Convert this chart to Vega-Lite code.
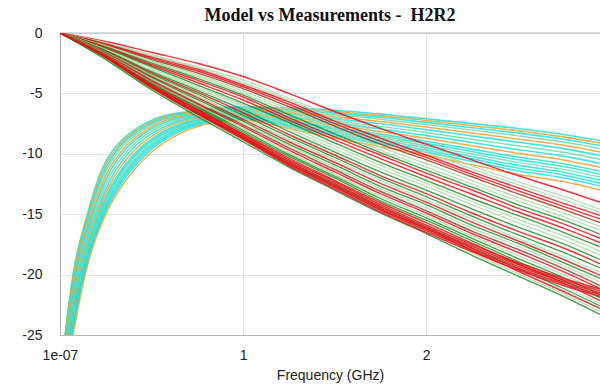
{
"$schema":"https://vega.github.io/schema/vega-lite/v6.json",
"width":540,"height":302,
"autosize":{"type":"none"},
"padding":{"left":60,"top":33,"right":0,"bottom":52},
"background":"white",
"title":{"text":"Model vs Measurements -\u00a0 H2R2","font":"Liberation Serif","fontSize":18,"fontWeight":"bold","color":"#111111","anchor":"middle","offset":1},
"config":{"view":{"stroke":null},"axis":{"labelFont":"Liberation Sans","labelFontSize":14,"labelColor":"#222222","titleFont":"Liberation Sans","titleFontSize":14,"titleFontWeight":"normal","titleColor":"#222222","gridColor":"#e3e3e3","domainColor":"#b5b5b5","ticks":false,"tickSize":0}},
"datasets":{
"series":[
{"id":"RL00","g":"RL model"},{"id":"RL01","g":"RL meas"},{"id":"RL02","g":"RL model"},{"id":"RL03","g":"RL meas 2"},{"id":"RL04","g":"RL meas"},{"id":"RL05","g":"RL model"},{"id":"RL06","g":"RL meas 2"},{"id":"RL07","g":"RL model"},{"id":"RL08","g":"RL meas"},{"id":"RL09","g":"RL model"},{"id":"RL10","g":"RL model"},{"id":"RL11","g":"RL meas 2"},{"id":"RL12","g":"RL model"},{"id":"RL13","g":"RL model"},{"id":"RL14","g":"RL model"},{"id":"RL15","g":"RL meas"},
{"id":"IL00","g":"IL model"},{"id":"IL01","g":"IL meas 2"},{"id":"IL02","g":"IL model"},{"id":"IL03","g":"IL model 2"},{"id":"IL04","g":"IL meas 2"},{"id":"IL05","g":"IL model"},{"id":"IL06","g":"IL meas"},{"id":"IL07","g":"IL meas 2"},{"id":"IL08","g":"IL model"},{"id":"IL09","g":"IL meas 2"},{"id":"IL10","g":"IL meas"},{"id":"IL11","g":"IL model 2"},{"id":"IL12","g":"IL meas 2"},{"id":"IL13","g":"IL meas"},{"id":"IL14","g":"IL meas 2"},{"id":"IL15","g":"IL model"},{"id":"IL16","g":"IL meas"},{"id":"IL17","g":"IL model"},{"id":"IL18","g":"IL model"},{"id":"IL19","g":"IL model"},{"id":"IL20","g":"IL meas 2"},{"id":"IL21","g":"IL meas"},
{"id":"IL22","g":"IL model"},{"id":"IL23","g":"IL meas 2"},{"id":"IL24","g":"IL meas"},{"id":"IL25","g":"IL model"},{"id":"IL26","g":"IL meas 2"},{"id":"IL27","g":"IL meas"},{"id":"IL28","g":"IL model"},{"id":"IL29","g":"IL meas 2"},{"id":"IL30","g":"IL model"},{"id":"IL31","g":"IL meas"},{"id":"IL32","g":"IL model"},{"id":"IL33","g":"IL meas"},{"id":"IL34","g":"IL meas 2"},{"id":"IL35","g":"IL model"},{"id":"IL36","g":"IL model"}
],
"rl":[
{"id":"RL00","f":0.027,"v":-25},{"id":"RL00","f":0.071,"v":-20},{"id":"RL00","f":0.15,"v":-15},{"id":"RL00","f":0.22,"v":-11.6},{"id":"RL00","f":0.3,"v":-9.5},{"id":"RL00","f":0.4,"v":-8.1},{"id":"RL00","f":0.52,"v":-7.1},{"id":"RL00","f":0.7,"v":-6.5},{"id":"RL00","f":1,"v":-6.1},{"id":"RL00","f":1.25,"v":-6.2},{"id":"RL00","f":1.5,"v":-6.4},{"id":"RL00","f":1.75,"v":-6.7},{"id":"RL00","f":2,"v":-7.1},{"id":"RL00","f":2.25,"v":-7.5},{"id":"RL00","f":2.5,"v":-7.9},{"id":"RL00","f":2.75,"v":-8.4},{"id":"RL00","f":2.95,"v":-8.9},
{"id":"RL01","f":0.029,"v":-25},{"id":"RL01","f":0.074,"v":-20},{"id":"RL01","f":0.155,"v":-15},{"id":"RL01","f":0.227,"v":-11.63},{"id":"RL01","f":0.31,"v":-9.53},{"id":"RL01","f":0.411,"v":-8.13},{"id":"RL01","f":0.532,"v":-7.13},{"id":"RL01","f":0.709,"v":-6.54},{"id":"RL01","f":1,"v":-6.16},{"id":"RL01","f":1.25,"v":-6.29},{"id":"RL01","f":1.5,"v":-6.52},{"id":"RL01","f":1.75,"v":-6.84},{"id":"RL01","f":2,"v":-7.25},{"id":"RL01","f":2.25,"v":-7.67},{"id":"RL01","f":2.5,"v":-8.09},{"id":"RL01","f":2.75,"v":-8.6},{"id":"RL01","f":2.95,"v":-9.1},
{"id":"RL02","f":0.031,"v":-25},{"id":"RL02","f":0.078,"v":-20},{"id":"RL02","f":0.16,"v":-15},{"id":"RL02","f":0.234,"v":-11.66},{"id":"RL02","f":0.319,"v":-9.55},{"id":"RL02","f":0.422,"v":-8.15},{"id":"RL02","f":0.544,"v":-7.16},{"id":"RL02","f":0.718,"v":-6.59},{"id":"RL02","f":1,"v":-6.21},{"id":"RL02","f":1.25,"v":-6.37},{"id":"RL02","f":1.5,"v":-6.63},{"id":"RL02","f":1.75,"v":-6.97},{"id":"RL02","f":2,"v":-7.4},{"id":"RL02","f":2.25,"v":-7.84},{"id":"RL02","f":2.5,"v":-8.28},{"id":"RL02","f":2.75,"v":-8.79},{"id":"RL02","f":2.95,"v":-9.31},
{"id":"RL03","f":0.034,"v":-25},{"id":"RL03","f":0.082,"v":-20},{"id":"RL03","f":0.166,"v":-15},{"id":"RL03","f":0.242,"v":-11.7},{"id":"RL03","f":0.33,"v":-9.58},{"id":"RL03","f":0.435,"v":-8.18},{"id":"RL03","f":0.558,"v":-7.2},{"id":"RL03","f":0.729,"v":-6.64},{"id":"RL03","f":1,"v":-6.28},{"id":"RL03","f":1.25,"v":-6.47},{"id":"RL03","f":1.5,"v":-6.77},{"id":"RL03","f":1.75,"v":-7.13},{"id":"RL03","f":2,"v":-7.58},{"id":"RL03","f":2.25,"v":-8.04},{"id":"RL03","f":2.5,"v":-8.51},{"id":"RL03","f":2.75,"v":-9.02},{"id":"RL03","f":2.95,"v":-9.56},
{"id":"RL04","f":0.037,"v":-25},{"id":"RL04","f":0.086,"v":-20},{"id":"RL04","f":0.173,"v":-15},{"id":"RL04","f":0.252,"v":-11.74},{"id":"RL04","f":0.344,"v":-9.62},{"id":"RL04","f":0.451,"v":-8.22},{"id":"RL04","f":0.575,"v":-7.24},{"id":"RL04","f":0.741,"v":-6.7},{"id":"RL04","f":1,"v":-6.35},{"id":"RL04","f":1.25,"v":-6.59},{"id":"RL04","f":1.5,"v":-6.93},{"id":"RL04","f":1.75,"v":-7.32},{"id":"RL04","f":2,"v":-7.79},{"id":"RL04","f":2.25,"v":-8.28},{"id":"RL04","f":2.5,"v":-8.77},{"id":"RL04","f":2.75,"v":-9.3},{"id":"RL04","f":2.95,"v":-9.84},
{"id":"RL05","f":0.04,"v":-25},{"id":"RL05","f":0.091,"v":-20},{"id":"RL05","f":0.18,"v":-15},{"id":"RL05","f":0.262,"v":-11.78},{"id":"RL05","f":0.357,"v":-9.65},{"id":"RL05","f":0.466,"v":-8.25},{"id":"RL05","f":0.592,"v":-7.28},{"id":"RL05","f":0.754,"v":-6.76},{"id":"RL05","f":1,"v":-6.43},{"id":"RL05","f":1.25,"v":-6.71},{"id":"RL05","f":1.5,"v":-7.09},{"id":"RL05","f":1.75,"v":-7.51},{"id":"RL05","f":2,"v":-8.0},{"id":"RL05","f":2.25,"v":-8.52},{"id":"RL05","f":2.5,"v":-9.04},{"id":"RL05","f":2.75,"v":-9.57},{"id":"RL05","f":2.95,"v":-10.13},
{"id":"RL06","f":0.044,"v":-25},{"id":"RL06","f":0.096,"v":-20},{"id":"RL06","f":0.188,"v":-15},{"id":"RL06","f":0.273,"v":-11.83},{"id":"RL06","f":0.372,"v":-9.69},{"id":"RL06","f":0.484,"v":-8.29},{"id":"RL06","f":0.611,"v":-7.33},{"id":"RL06","f":0.768,"v":-6.82},{"id":"RL06","f":1,"v":-6.52},{"id":"RL06","f":1.25,"v":-6.85},{"id":"RL06","f":1.5,"v":-7.27},{"id":"RL06","f":1.75,"v":-7.73},{"id":"RL06","f":2,"v":-8.24},{"id":"RL06","f":2.25,"v":-8.79},{"id":"RL06","f":2.5,"v":-9.34},{"id":"RL06","f":2.75,"v":-9.88},{"id":"RL06","f":2.95,"v":-10.46},
{"id":"RL07","f":0.047,"v":-25},{"id":"RL07","f":0.101,"v":-20},{"id":"RL07","f":0.196,"v":-15},{"id":"RL07","f":0.284,"v":-11.88},{"id":"RL07","f":0.387,"v":-9.73},{"id":"RL07","f":0.501,"v":-8.33},{"id":"RL07","f":0.63,"v":-7.38},{"id":"RL07","f":0.783,"v":-6.89},{"id":"RL07","f":1,"v":-6.61},{"id":"RL07","f":1.25,"v":-6.98},{"id":"RL07","f":1.5,"v":-7.46},{"id":"RL07","f":1.75,"v":-7.94},{"id":"RL07","f":2,"v":-8.48},{"id":"RL07","f":2.25,"v":-9.06},{"id":"RL07","f":2.5,"v":-9.65},{"id":"RL07","f":2.75,"v":-10.19},{"id":"RL07","f":2.95,"v":-10.79},
{"id":"RL08","f":0.051,"v":-25},{"id":"RL08","f":0.107,"v":-20},{"id":"RL08","f":0.204,"v":-15},{"id":"RL08","f":0.296,"v":-11.92},{"id":"RL08","f":0.403,"v":-9.77},{"id":"RL08","f":0.519,"v":-8.37},{"id":"RL08","f":0.65,"v":-7.42},{"id":"RL08","f":0.797,"v":-6.96},{"id":"RL08","f":1,"v":-6.69},{"id":"RL08","f":1.25,"v":-7.12},{"id":"RL08","f":1.5,"v":-7.64},{"id":"RL08","f":1.75,"v":-8.16},{"id":"RL08","f":2,"v":-8.72},{"id":"RL08","f":2.25,"v":-9.34},{"id":"RL08","f":2.5,"v":-9.95},{"id":"RL08","f":2.75,"v":-10.51},{"id":"RL08","f":2.95,"v":-11.11},
{"id":"RL09","f":0.054,"v":-25},{"id":"RL09","f":0.112,"v":-20},{"id":"RL09","f":0.212,"v":-15},{"id":"RL09","f":0.307,"v":-11.97},{"id":"RL09","f":0.418,"v":-9.81},{"id":"RL09","f":0.536,"v":-8.41},{"id":"RL09","f":0.669,"v":-7.47},{"id":"RL09","f":0.812,"v":-7.03},{"id":"RL09","f":1,"v":-6.78},{"id":"RL09","f":1.25,"v":-7.25},{"id":"RL09","f":1.5,"v":-7.83},{"id":"RL09","f":1.75,"v":-8.37},{"id":"RL09","f":2,"v":-8.96},{"id":"RL09","f":2.25,"v":-9.61},{"id":"RL09","f":2.5,"v":-10.26},{"id":"RL09","f":2.75,"v":-10.82},{"id":"RL09","f":2.95,"v":-11.44},
{"id":"RL10","f":0.057,"v":-25},{"id":"RL10","f":0.116,"v":-20},{"id":"RL10","f":0.218,"v":-15},{"id":"RL10","f":0.315,"v":-12.01},{"id":"RL10","f":0.429,"v":-9.84},{"id":"RL10","f":0.55,"v":-8.44},{"id":"RL10","f":0.683,"v":-7.51},{"id":"RL10","f":0.822,"v":-7.08},{"id":"RL10","f":1,"v":-6.85},{"id":"RL10","f":1.25,"v":-7.36},{"id":"RL10","f":1.5,"v":-7.96},{"id":"RL10","f":1.75,"v":-8.54},{"id":"RL10","f":2,"v":-9.14},{"id":"RL10","f":2.25,"v":-9.81},{"id":"RL10","f":2.5,"v":-10.48},{"id":"RL10","f":2.75,"v":-11.05},{"id":"RL10","f":2.95,"v":-11.69},
{"id":"RL11","f":0.06,"v":-25},{"id":"RL11","f":0.12,"v":-20},{"id":"RL11","f":0.224,"v":-15},{"id":"RL11","f":0.324,"v":-12.04},{"id":"RL11","f":0.441,"v":-9.87},{"id":"RL11","f":0.563,"v":-8.47},{"id":"RL11","f":0.698,"v":-7.54},{"id":"RL11","f":0.833,"v":-7.13},{"id":"RL11","f":1,"v":-6.91},{"id":"RL11","f":1.25,"v":-7.46},{"id":"RL11","f":1.5,"v":-8.1},{"id":"RL11","f":1.75,"v":-8.7},{"id":"RL11","f":2,"v":-9.32},{"id":"RL11","f":2.25,"v":-10.02},{"id":"RL11","f":2.5,"v":-10.71},{"id":"RL11","f":2.75,"v":-11.29},{"id":"RL11","f":2.95,"v":-11.93},
{"id":"RL12","f":0.062,"v":-25},{"id":"RL12","f":0.124,"v":-20},{"id":"RL12","f":0.23,"v":-15},{"id":"RL12","f":0.332,"v":-12.08},{"id":"RL12","f":0.452,"v":-9.9},{"id":"RL12","f":0.576,"v":-8.5},{"id":"RL12","f":0.712,"v":-7.58},{"id":"RL12","f":0.844,"v":-7.18},{"id":"RL12","f":1,"v":-6.98},{"id":"RL12","f":1.25,"v":-7.56},{"id":"RL12","f":1.5,"v":-8.24},{"id":"RL12","f":1.75,"v":-8.86},{"id":"RL12","f":2,"v":-9.5},{"id":"RL12","f":2.25,"v":-10.22},{"id":"RL12","f":2.5,"v":-10.94},{"id":"RL12","f":2.75,"v":-11.52},{"id":"RL12","f":2.95,"v":-12.18},
{"id":"RL13","f":0.065,"v":-25},{"id":"RL13","f":0.128,"v":-20},{"id":"RL13","f":0.236,"v":-15},{"id":"RL13","f":0.34,"v":-12.12},{"id":"RL13","f":0.463,"v":-9.93},{"id":"RL13","f":0.589,"v":-8.53},{"id":"RL13","f":0.726,"v":-7.62},{"id":"RL13","f":0.855,"v":-7.23},{"id":"RL13","f":1,"v":-7.05},{"id":"RL13","f":1.25,"v":-7.66},{"id":"RL13","f":1.5,"v":-8.38},{"id":"RL13","f":1.75,"v":-9.02},{"id":"RL13","f":2,"v":-9.68},{"id":"RL13","f":2.25,"v":-10.42},{"id":"RL13","f":2.5,"v":-11.17},{"id":"RL13","f":2.75,"v":-11.75},{"id":"RL13","f":2.95,"v":-12.43},
{"id":"RL14","f":0.067,"v":-25},{"id":"RL14","f":0.132,"v":-20},{"id":"RL14","f":0.242,"v":-15},{"id":"RL14","f":0.349,"v":-12.15},{"id":"RL14","f":0.475,"v":-9.96},{"id":"RL14","f":0.602,"v":-8.56},{"id":"RL14","f":0.741,"v":-7.65},{"id":"RL14","f":0.866,"v":-7.28},{"id":"RL14","f":1,"v":-7.11},{"id":"RL14","f":1.25,"v":-7.76},{"id":"RL14","f":1.5,"v":-8.52},{"id":"RL14","f":1.75,"v":-9.18},{"id":"RL14","f":2,"v":-9.86},{"id":"RL14","f":2.25,"v":-10.63},{"id":"RL14","f":2.5,"v":-11.4},{"id":"RL14","f":2.75,"v":-11.99},{"id":"RL14","f":2.95,"v":-12.67},
{"id":"RL15","f":0.071,"v":-25},{"id":"RL15","f":0.137,"v":-20},{"id":"RL15","f":0.25,"v":-15},{"id":"RL15","f":0.36,"v":-12.2},{"id":"RL15","f":0.49,"v":-10},{"id":"RL15","f":0.62,"v":-8.6},{"id":"RL15","f":0.76,"v":-7.7},{"id":"RL15","f":0.88,"v":-7.35},{"id":"RL15","f":1,"v":-7.2},{"id":"RL15","f":1.25,"v":-7.9},{"id":"RL15","f":1.5,"v":-8.7},{"id":"RL15","f":1.75,"v":-9.4},{"id":"RL15","f":2,"v":-10.1},{"id":"RL15","f":2.25,"v":-10.9},{"id":"RL15","f":2.5,"v":-11.7},{"id":"RL15","f":2.75,"v":-12.3},{"id":"RL15","f":2.95,"v":-13.0}
],
"il":[
{"id":"IL00","f":0,"v":0},{"id":"IL00","f":0.25,"v":-0.7},{"id":"IL00","f":0.5,"v":-1.6},{"id":"IL00","f":0.75,"v":-2.5},{"id":"IL00","f":1,"v":-3.6},{"id":"IL00","f":1.25,"v":-5.0},{"id":"IL00","f":1.5,"v":-6.5},{"id":"IL00","f":1.75,"v":-7.9},{"id":"IL00","f":2,"v":-9.2},{"id":"IL00","f":2.25,"v":-10.5},{"id":"IL00","f":2.5,"v":-11.8},{"id":"IL00","f":2.75,"v":-13.0},{"id":"IL00","f":2.95,"v":-14.0},
{"id":"IL01","f":0,"v":0},{"id":"IL01","f":0.25,"v":-0.8},{"id":"IL01","f":0.5,"v":-1.8},{"id":"IL01","f":0.75,"v":-2.8},{"id":"IL01","f":1,"v":-3.9},{"id":"IL01","f":1.25,"v":-5.4},{"id":"IL01","f":1.5,"v":-6.9},{"id":"IL01","f":1.75,"v":-8.3},{"id":"IL01","f":2,"v":-9.6},{"id":"IL01","f":2.25,"v":-11.0},{"id":"IL01","f":2.5,"v":-12.3},{"id":"IL01","f":2.75,"v":-13.5},{"id":"IL01","f":2.95,"v":-14.6},
{"id":"IL20","f":0,"v":0},{"id":"IL20","f":0.25,"v":-0.85},{"id":"IL20","f":0.5,"v":-1.9},{"id":"IL20","f":0.75,"v":-2.9},{"id":"IL20","f":1,"v":-4.1},{"id":"IL20","f":1.25,"v":-5.55},{"id":"IL20","f":1.5,"v":-7.1},{"id":"IL20","f":1.75,"v":-8.5},{"id":"IL20","f":2,"v":-9.85},{"id":"IL20","f":2.25,"v":-11.25},{"id":"IL20","f":2.5,"v":-12.55},{"id":"IL20","f":2.75,"v":-13.8},{"id":"IL20","f":2.95,"v":-14.85},
{"id":"IL02","f":0,"v":0},{"id":"IL02","f":0.25,"v":-0.9},{"id":"IL02","f":0.5,"v":-2.0},{"id":"IL02","f":0.75,"v":-3.0},{"id":"IL02","f":1,"v":-4.3},{"id":"IL02","f":1.25,"v":-5.7},{"id":"IL02","f":1.5,"v":-7.3},{"id":"IL02","f":1.75,"v":-8.7},{"id":"IL02","f":2,"v":-10.1},{"id":"IL02","f":2.25,"v":-11.5},{"id":"IL02","f":2.5,"v":-12.8},{"id":"IL02","f":2.75,"v":-14.1},{"id":"IL02","f":2.95,"v":-15.1},
{"id":"IL22","f":0,"v":0},{"id":"IL22","f":0.25,"v":-0.95},{"id":"IL22","f":0.5,"v":-2.1},{"id":"IL22","f":0.75,"v":-3.15},{"id":"IL22","f":1,"v":-4.45},{"id":"IL22","f":1.25,"v":-5.9},{"id":"IL22","f":1.5,"v":-7.5},{"id":"IL22","f":1.75,"v":-8.95},{"id":"IL22","f":2,"v":-10.3},{"id":"IL22","f":2.25,"v":-11.7},{"id":"IL22","f":2.5,"v":-13.05},{"id":"IL22","f":2.75,"v":-14.35},{"id":"IL22","f":2.95,"v":-15.4},
{"id":"IL03","f":0,"v":0},{"id":"IL03","f":0.25,"v":-1.0},{"id":"IL03","f":0.5,"v":-2.2},{"id":"IL03","f":0.75,"v":-3.3},{"id":"IL03","f":1,"v":-4.6},{"id":"IL03","f":1.25,"v":-6.1},{"id":"IL03","f":1.5,"v":-7.7},{"id":"IL03","f":1.75,"v":-9.2},{"id":"IL03","f":2,"v":-10.5},{"id":"IL03","f":2.25,"v":-11.9},{"id":"IL03","f":2.5,"v":-13.3},{"id":"IL03","f":2.75,"v":-14.6},{"id":"IL03","f":2.95,"v":-15.7},
{"id":"IL23","f":0,"v":0},{"id":"IL23","f":0.25,"v":-1.05},{"id":"IL23","f":0.5,"v":-2.3},{"id":"IL23","f":0.75,"v":-3.45},{"id":"IL23","f":1,"v":-4.8},{"id":"IL23","f":1.25,"v":-6.3},{"id":"IL23","f":1.5,"v":-7.9},{"id":"IL23","f":1.75,"v":-9.45},{"id":"IL23","f":2,"v":-10.8},{"id":"IL23","f":2.25,"v":-12.2},{"id":"IL23","f":2.5,"v":-13.6},{"id":"IL23","f":2.75,"v":-14.9},{"id":"IL23","f":2.95,"v":-16.0},
{"id":"IL04","f":0,"v":0},{"id":"IL04","f":0.25,"v":-1.1},{"id":"IL04","f":0.5,"v":-2.4},{"id":"IL04","f":0.75,"v":-3.6},{"id":"IL04","f":1,"v":-5.0},{"id":"IL04","f":1.25,"v":-6.5},{"id":"IL04","f":1.5,"v":-8.1},{"id":"IL04","f":1.75,"v":-9.7},{"id":"IL04","f":2,"v":-11.1},{"id":"IL04","f":2.25,"v":-12.5},{"id":"IL04","f":2.5,"v":-13.9},{"id":"IL04","f":2.75,"v":-15.2},{"id":"IL04","f":2.95,"v":-16.3},
{"id":"IL24","f":0,"v":0},{"id":"IL24","f":0.25,"v":-1.15},{"id":"IL24","f":0.5,"v":-2.5},{"id":"IL24","f":0.75,"v":-3.75},{"id":"IL24","f":1,"v":-5.15},{"id":"IL24","f":1.25,"v":-6.75},{"id":"IL24","f":1.5,"v":-8.35},{"id":"IL24","f":1.75,"v":-9.9},{"id":"IL24","f":2,"v":-11.35},{"id":"IL24","f":2.25,"v":-12.75},{"id":"IL24","f":2.5,"v":-14.2},{"id":"IL24","f":2.75,"v":-15.5},{"id":"IL24","f":2.95,"v":-16.65},
{"id":"IL05","f":0,"v":0},{"id":"IL05","f":0.25,"v":-1.2},{"id":"IL05","f":0.5,"v":-2.6},{"id":"IL05","f":0.75,"v":-3.9},{"id":"IL05","f":1,"v":-5.3},{"id":"IL05","f":1.25,"v":-7.0},{"id":"IL05","f":1.5,"v":-8.6},{"id":"IL05","f":1.75,"v":-10.1},{"id":"IL05","f":2,"v":-11.6},{"id":"IL05","f":2.25,"v":-13.0},{"id":"IL05","f":2.5,"v":-14.5},{"id":"IL05","f":2.75,"v":-15.8},{"id":"IL05","f":2.95,"v":-17.0},
{"id":"IL25","f":0,"v":0},{"id":"IL25","f":0.25,"v":-1.25},{"id":"IL25","f":0.5,"v":-2.7},{"id":"IL25","f":0.75,"v":-4.1},{"id":"IL25","f":1,"v":-5.55},{"id":"IL25","f":1.25,"v":-7.2},{"id":"IL25","f":1.5,"v":-8.85},{"id":"IL25","f":1.75,"v":-10.4},{"id":"IL25","f":2,"v":-11.9},{"id":"IL25","f":2.25,"v":-13.35},{"id":"IL25","f":2.5,"v":-14.8},{"id":"IL25","f":2.75,"v":-16.15},{"id":"IL25","f":2.95,"v":-17.35},
{"id":"IL06","f":0,"v":0},{"id":"IL06","f":0.25,"v":-1.3},{"id":"IL06","f":0.5,"v":-2.8},{"id":"IL06","f":0.75,"v":-4.3},{"id":"IL06","f":1,"v":-5.8},{"id":"IL06","f":1.25,"v":-7.4},{"id":"IL06","f":1.5,"v":-9.1},{"id":"IL06","f":1.75,"v":-10.7},{"id":"IL06","f":2,"v":-12.2},{"id":"IL06","f":2.25,"v":-13.7},{"id":"IL06","f":2.5,"v":-15.1},{"id":"IL06","f":2.75,"v":-16.5},{"id":"IL06","f":2.95,"v":-17.7},
{"id":"IL26","f":0,"v":0},{"id":"IL26","f":0.25,"v":-1.35},{"id":"IL26","f":0.5,"v":-2.95},{"id":"IL26","f":0.75,"v":-4.45},{"id":"IL26","f":1,"v":-5.95},{"id":"IL26","f":1.25,"v":-7.65},{"id":"IL26","f":1.5,"v":-9.35},{"id":"IL26","f":1.75,"v":-10.95},{"id":"IL26","f":2,"v":-12.45},{"id":"IL26","f":2.25,"v":-13.95},{"id":"IL26","f":2.5,"v":-15.4},{"id":"IL26","f":2.75,"v":-16.8},{"id":"IL26","f":2.95,"v":-18.05},
{"id":"IL07","f":0,"v":0},{"id":"IL07","f":0.25,"v":-1.4},{"id":"IL07","f":0.5,"v":-3.1},{"id":"IL07","f":0.75,"v":-4.6},{"id":"IL07","f":1,"v":-6.1},{"id":"IL07","f":1.25,"v":-7.9},{"id":"IL07","f":1.5,"v":-9.6},{"id":"IL07","f":1.75,"v":-11.2},{"id":"IL07","f":2,"v":-12.7},{"id":"IL07","f":2.25,"v":-14.2},{"id":"IL07","f":2.5,"v":-15.7},{"id":"IL07","f":2.75,"v":-17.1},{"id":"IL07","f":2.95,"v":-18.4},
{"id":"IL21","f":0,"v":0},{"id":"IL21","f":0.25,"v":-1.45},{"id":"IL21","f":0.5,"v":-3.2},{"id":"IL21","f":0.75,"v":-4.75},{"id":"IL21","f":1,"v":-6.35},{"id":"IL21","f":1.25,"v":-8.15},{"id":"IL21","f":1.5,"v":-9.85},{"id":"IL21","f":1.75,"v":-11.5},{"id":"IL21","f":2,"v":-13.0},{"id":"IL21","f":2.25,"v":-14.55},{"id":"IL21","f":2.5,"v":-16.05},{"id":"IL21","f":2.75,"v":-17.45},{"id":"IL21","f":2.95,"v":-18.75},
{"id":"IL08","f":0,"v":0},{"id":"IL08","f":0.25,"v":-1.5},{"id":"IL08","f":0.5,"v":-3.3},{"id":"IL08","f":0.75,"v":-4.9},{"id":"IL08","f":1,"v":-6.6},{"id":"IL08","f":1.25,"v":-8.4},{"id":"IL08","f":1.5,"v":-10.1},{"id":"IL08","f":1.75,"v":-11.8},{"id":"IL08","f":2,"v":-13.3},{"id":"IL08","f":2.25,"v":-14.9},{"id":"IL08","f":2.5,"v":-16.4},{"id":"IL08","f":2.75,"v":-17.8},{"id":"IL08","f":2.95,"v":-19.1},
{"id":"IL27","f":0,"v":0},{"id":"IL27","f":0.25,"v":-1.55},{"id":"IL27","f":0.5,"v":-3.4},{"id":"IL27","f":0.75,"v":-5.05},{"id":"IL27","f":1,"v":-6.8},{"id":"IL27","f":1.25,"v":-8.6},{"id":"IL27","f":1.5,"v":-10.3},{"id":"IL27","f":1.75,"v":-12.0},{"id":"IL27","f":2,"v":-13.55},{"id":"IL27","f":2.25,"v":-15.15},{"id":"IL27","f":2.5,"v":-16.7},{"id":"IL27","f":2.75,"v":-18.15},{"id":"IL27","f":2.95,"v":-19.45},
{"id":"IL09","f":0,"v":0},{"id":"IL09","f":0.25,"v":-1.6},{"id":"IL09","f":0.5,"v":-3.5},{"id":"IL09","f":0.75,"v":-5.2},{"id":"IL09","f":1,"v":-7.0},{"id":"IL09","f":1.25,"v":-8.8},{"id":"IL09","f":1.5,"v":-10.5},{"id":"IL09","f":1.75,"v":-12.2},{"id":"IL09","f":2,"v":-13.8},{"id":"IL09","f":2.25,"v":-15.4},{"id":"IL09","f":2.5,"v":-17.0},{"id":"IL09","f":2.75,"v":-18.5},{"id":"IL09","f":2.95,"v":-19.8},
{"id":"IL28","f":0,"v":0},{"id":"IL28","f":0.25,"v":-1.65},{"id":"IL28","f":0.5,"v":-3.6},{"id":"IL28","f":0.75,"v":-5.35},{"id":"IL28","f":1,"v":-7.15},{"id":"IL28","f":1.25,"v":-9.0},{"id":"IL28","f":1.5,"v":-10.7},{"id":"IL28","f":1.75,"v":-12.45},{"id":"IL28","f":2,"v":-14.0},{"id":"IL28","f":2.25,"v":-15.65},{"id":"IL28","f":2.5,"v":-17.2},{"id":"IL28","f":2.75,"v":-18.75},{"id":"IL28","f":2.95,"v":-20.05},
{"id":"IL10","f":0,"v":0},{"id":"IL10","f":0.25,"v":-1.7},{"id":"IL10","f":0.5,"v":-3.7},{"id":"IL10","f":0.75,"v":-5.5},{"id":"IL10","f":1,"v":-7.3},{"id":"IL10","f":1.25,"v":-9.2},{"id":"IL10","f":1.5,"v":-10.9},{"id":"IL10","f":1.75,"v":-12.7},{"id":"IL10","f":2,"v":-14.2},{"id":"IL10","f":2.25,"v":-15.9},{"id":"IL10","f":2.5,"v":-17.4},{"id":"IL10","f":2.75,"v":-19.0},{"id":"IL10","f":2.95,"v":-20.3},
{"id":"IL29","f":0,"v":0},{"id":"IL29","f":0.25,"v":-1.75},{"id":"IL29","f":0.5,"v":-3.8},{"id":"IL29","f":0.75,"v":-5.65},{"id":"IL29","f":1,"v":-7.45},{"id":"IL29","f":1.25,"v":-9.35},{"id":"IL29","f":1.5,"v":-11.1},{"id":"IL29","f":1.75,"v":-12.9},{"id":"IL29","f":2,"v":-14.45},{"id":"IL29","f":2.25,"v":-16.15},{"id":"IL29","f":2.5,"v":-17.65},{"id":"IL29","f":2.75,"v":-19.25},{"id":"IL29","f":2.95,"v":-20.6},
{"id":"IL11","f":0,"v":0},{"id":"IL11","f":0.25,"v":-1.8},{"id":"IL11","f":0.5,"v":-3.9},{"id":"IL11","f":0.75,"v":-5.8},{"id":"IL11","f":1,"v":-7.6},{"id":"IL11","f":1.25,"v":-9.5},{"id":"IL11","f":1.5,"v":-11.3},{"id":"IL11","f":1.75,"v":-13.1},{"id":"IL11","f":2,"v":-14.7},{"id":"IL11","f":2.25,"v":-16.4},{"id":"IL11","f":2.5,"v":-17.9},{"id":"IL11","f":2.75,"v":-19.5},{"id":"IL11","f":2.95,"v":-20.9},
{"id":"IL30","f":0,"v":0},{"id":"IL30","f":0.25,"v":-1.85},{"id":"IL30","f":0.5,"v":-4.0},{"id":"IL30","f":0.75,"v":-5.9},{"id":"IL30","f":1,"v":-7.75},{"id":"IL30","f":1.25,"v":-9.7},{"id":"IL30","f":1.5,"v":-11.5},{"id":"IL30","f":1.75,"v":-13.3},{"id":"IL30","f":2,"v":-14.9},{"id":"IL30","f":2.25,"v":-16.6},{"id":"IL30","f":2.5,"v":-18.15},{"id":"IL30","f":2.75,"v":-19.75},{"id":"IL30","f":2.95,"v":-21.15},
{"id":"IL12","f":0,"v":0},{"id":"IL12","f":0.25,"v":-1.9},{"id":"IL12","f":0.5,"v":-4.1},{"id":"IL12","f":0.75,"v":-6.0},{"id":"IL12","f":1,"v":-7.9},{"id":"IL12","f":1.25,"v":-9.9},{"id":"IL12","f":1.5,"v":-11.7},{"id":"IL12","f":1.75,"v":-13.5},{"id":"IL12","f":2,"v":-15.1},{"id":"IL12","f":2.25,"v":-16.8},{"id":"IL12","f":2.5,"v":-18.4},{"id":"IL12","f":2.75,"v":-20.0},{"id":"IL12","f":2.95,"v":-21.4},
{"id":"IL31","f":0,"v":0},{"id":"IL31","f":0.25,"v":-1.95},{"id":"IL31","f":0.5,"v":-4.15},{"id":"IL31","f":0.75,"v":-6.1},{"id":"IL31","f":1,"v":-8.05},{"id":"IL31","f":1.25,"v":-10.05},{"id":"IL31","f":1.5,"v":-11.85},{"id":"IL31","f":1.75,"v":-13.7},{"id":"IL31","f":2,"v":-15.3},{"id":"IL31","f":2.25,"v":-17.0},{"id":"IL31","f":2.5,"v":-18.65},{"id":"IL31","f":2.75,"v":-20.25},{"id":"IL31","f":2.95,"v":-21.65},
{"id":"IL13","f":0,"v":0},{"id":"IL13","f":0.25,"v":-2.0},{"id":"IL13","f":0.5,"v":-4.2},{"id":"IL13","f":0.75,"v":-6.2},{"id":"IL13","f":1,"v":-8.2},{"id":"IL13","f":1.25,"v":-10.2},{"id":"IL13","f":1.5,"v":-12.0},{"id":"IL13","f":1.75,"v":-13.9},{"id":"IL13","f":2,"v":-15.5},{"id":"IL13","f":2.25,"v":-17.2},{"id":"IL13","f":2.5,"v":-18.9},{"id":"IL13","f":2.75,"v":-20.5},{"id":"IL13","f":2.95,"v":-21.9},
{"id":"IL32","f":0,"v":0},{"id":"IL32","f":0.25,"v":-2.05},{"id":"IL32","f":0.5,"v":-4.3},{"id":"IL32","f":0.75,"v":-6.35},{"id":"IL32","f":1,"v":-8.35},{"id":"IL32","f":1.25,"v":-10.35},{"id":"IL32","f":1.5,"v":-12.2},{"id":"IL32","f":1.75,"v":-14.05},{"id":"IL32","f":2,"v":-15.7},{"id":"IL32","f":2.25,"v":-17.4},{"id":"IL32","f":2.5,"v":-19.1},{"id":"IL32","f":2.75,"v":-20.7},{"id":"IL32","f":2.95,"v":-22.15},
{"id":"IL14","f":0,"v":0},{"id":"IL14","f":0.25,"v":-2.1},{"id":"IL14","f":0.5,"v":-4.4},{"id":"IL14","f":0.75,"v":-6.5},{"id":"IL14","f":1,"v":-8.5},{"id":"IL14","f":1.25,"v":-10.5},{"id":"IL14","f":1.5,"v":-12.4},{"id":"IL14","f":1.75,"v":-14.2},{"id":"IL14","f":2,"v":-15.9},{"id":"IL14","f":2.25,"v":-17.6},{"id":"IL14","f":2.5,"v":-19.3},{"id":"IL14","f":2.75,"v":-20.9},{"id":"IL14","f":2.95,"v":-22.4},
{"id":"IL33","f":0,"v":0},{"id":"IL33","f":0.25,"v":-2.1},{"id":"IL33","f":0.5,"v":-4.5},{"id":"IL33","f":0.75,"v":-6.6},{"id":"IL33","f":1,"v":-8.6},{"id":"IL33","f":1.25,"v":-10.65},{"id":"IL33","f":1.5,"v":-12.55},{"id":"IL33","f":1.75,"v":-14.4},{"id":"IL33","f":2,"v":-16.05},{"id":"IL33","f":2.25,"v":-17.8},{"id":"IL33","f":2.5,"v":-19.5},{"id":"IL33","f":2.75,"v":-21.15},{"id":"IL33","f":2.95,"v":-22.6},
{"id":"IL15","f":0,"v":0},{"id":"IL15","f":0.25,"v":-2.1},{"id":"IL15","f":0.5,"v":-4.6},{"id":"IL15","f":0.75,"v":-6.7},{"id":"IL15","f":1,"v":-8.7},{"id":"IL15","f":1.25,"v":-10.8},{"id":"IL15","f":1.5,"v":-12.7},{"id":"IL15","f":1.75,"v":-14.6},{"id":"IL15","f":2,"v":-16.2},{"id":"IL15","f":2.25,"v":-18.0},{"id":"IL15","f":2.5,"v":-19.7},{"id":"IL15","f":2.75,"v":-21.4},{"id":"IL15","f":2.95,"v":-22.8},
{"id":"IL34","f":0,"v":0},{"id":"IL34","f":0.25,"v":-2.15},{"id":"IL34","f":0.5,"v":-4.65},{"id":"IL34","f":0.75,"v":-6.8},{"id":"IL34","f":1,"v":-8.85},{"id":"IL34","f":1.25,"v":-10.95},{"id":"IL34","f":1.5,"v":-12.85},{"id":"IL34","f":1.75,"v":-14.75},{"id":"IL34","f":2,"v":-16.4},{"id":"IL34","f":2.25,"v":-18.2},{"id":"IL34","f":2.5,"v":-19.9},{"id":"IL34","f":2.75,"v":-21.6},{"id":"IL34","f":2.95,"v":-23.05},
{"id":"IL16","f":0,"v":0},{"id":"IL16","f":0.25,"v":-2.2},{"id":"IL16","f":0.5,"v":-4.7},{"id":"IL16","f":0.75,"v":-6.9},{"id":"IL16","f":1,"v":-9.0},{"id":"IL16","f":1.25,"v":-11.1},{"id":"IL16","f":1.5,"v":-13.0},{"id":"IL16","f":1.75,"v":-14.9},{"id":"IL16","f":2,"v":-16.6},{"id":"IL16","f":2.25,"v":-18.4},{"id":"IL16","f":2.5,"v":-20.1},{"id":"IL16","f":2.75,"v":-21.8},{"id":"IL16","f":2.95,"v":-23.3},
{"id":"IL17","f":0,"v":0},{"id":"IL17","f":0.25,"v":-2.0},{"id":"IL17","f":0.5,"v":-4.5},{"id":"IL17","f":0.75,"v":-6.7},{"id":"IL17","f":1,"v":-8.8},{"id":"IL17","f":1.25,"v":-11.0},{"id":"IL17","f":1.5,"v":-12.9},{"id":"IL17","f":1.75,"v":-14.8},{"id":"IL17","f":2,"v":-16.5},{"id":"IL17","f":2.25,"v":-18.1},{"id":"IL17","f":2.5,"v":-19.6},{"id":"IL17","f":2.75,"v":-20.9},{"id":"IL17","f":2.95,"v":-21.8},
{"id":"IL35","f":0,"v":0},{"id":"IL35","f":0.25,"v":-2.0},{"id":"IL35","f":0.5,"v":-4.45},{"id":"IL35","f":0.75,"v":-6.6},{"id":"IL35","f":1,"v":-8.7},{"id":"IL35","f":1.25,"v":-10.9},{"id":"IL35","f":1.5,"v":-12.75},{"id":"IL35","f":1.75,"v":-14.65},{"id":"IL35","f":2,"v":-16.35},{"id":"IL35","f":2.25,"v":-17.95},{"id":"IL35","f":2.5,"v":-19.45},{"id":"IL35","f":2.75,"v":-20.75},{"id":"IL35","f":2.95,"v":-21.65},
{"id":"IL18","f":0,"v":0},{"id":"IL18","f":0.25,"v":-2.0},{"id":"IL18","f":0.5,"v":-4.4},{"id":"IL18","f":0.75,"v":-6.5},{"id":"IL18","f":1,"v":-8.6},{"id":"IL18","f":1.25,"v":-10.8},{"id":"IL18","f":1.5,"v":-12.6},{"id":"IL18","f":1.75,"v":-14.5},{"id":"IL18","f":2,"v":-16.2},{"id":"IL18","f":2.25,"v":-17.8},{"id":"IL18","f":2.5,"v":-19.3},{"id":"IL18","f":2.75,"v":-20.6},{"id":"IL18","f":2.95,"v":-21.5},
{"id":"IL36","f":0,"v":0},{"id":"IL36","f":0.25,"v":-1.95},{"id":"IL36","f":0.5,"v":-4.35},{"id":"IL36","f":0.75,"v":-6.4},{"id":"IL36","f":1,"v":-8.5},{"id":"IL36","f":1.25,"v":-10.65},{"id":"IL36","f":1.5,"v":-12.45},{"id":"IL36","f":1.75,"v":-14.35},{"id":"IL36","f":2,"v":-16.05},{"id":"IL36","f":2.25,"v":-17.65},{"id":"IL36","f":2.5,"v":-19.15},{"id":"IL36","f":2.75,"v":-20.45},{"id":"IL36","f":2.95,"v":-21.35},
{"id":"IL19","f":0,"v":0},{"id":"IL19","f":0.25,"v":-1.9},{"id":"IL19","f":0.5,"v":-4.3},{"id":"IL19","f":0.75,"v":-6.3},{"id":"IL19","f":1,"v":-8.4},{"id":"IL19","f":1.25,"v":-10.5},{"id":"IL19","f":1.5,"v":-12.3},{"id":"IL19","f":1.75,"v":-14.2},{"id":"IL19","f":2,"v":-15.9},{"id":"IL19","f":2.25,"v":-17.5},{"id":"IL19","f":2.5,"v":-19.0},{"id":"IL19","f":2.75,"v":-20.3},{"id":"IL19","f":2.95,"v":-21.2}
]
},
"layer":[
{"data":{"values":[{"v":0}]},"mark":{"type":"rule","color":"#b5b5b5","strokeWidth":1},
 "encoding":{"y":{"field":"v","type":"quantitative","scale":{"domain":[-25,0],"nice":false,"zero":false},"axis":{"values":[0,-5,-10,-15,-20,-25],"labelExpr":"'' + datum.value","labelPadding":18,"title":null,"grid":true}}}},
{"data":{"name":"rl"},
 "transform":[{"lookup":"id","from":{"data":{"name":"series"},"key":"id","fields":["g"]}}],
 "mark":{"type":"line","interpolate":"monotone","opacity":0.85,"clip":true},
 "encoding":{
  "x":{"field":"f","type":"quantitative","scale":{"domain":[0,2.95],"nice":false,"zero":false},"axis":{"values":[0,1,2],"labelExpr":"datum.value == 0 ? '1e-07' : '' + datum.value","labelFlush":false,"labelOverlap":false,"labelPadding":13,"title":"Frequency (GHz)","titlePadding":6,"grid":true}},
  "y":{"field":"v","type":"quantitative"},
  "detail":{"field":"id"},
  "color":{"field":"g","type":"nominal","legend":null,"scale":{"domain":["RL model","RL meas","RL meas 2","IL model","IL model 2","IL meas","IL meas 2"],"range":["#1fe0dc","#f0a02a","#6fd6a8","#e8101a","#9a3a1c","#1f8f1f","#a8d8a8"]}},
  "strokeWidth":{"field":"g","type":"nominal","legend":null,"scale":{"domain":["RL model","RL meas","RL meas 2","IL model","IL model 2","IL meas","IL meas 2"],"range":[1.6,1.3,1.5,1.4,1.3,1.4,1.9]}}
 }},
{"data":{"name":"il"},
 "transform":[{"lookup":"id","from":{"data":{"name":"series"},"key":"id","fields":["g"]}}],
 "mark":{"type":"line","interpolate":"monotone","opacity":0.85,"clip":true},
 "encoding":{
  "x":{"field":"f","type":"quantitative"},
  "y":{"field":"v","type":"quantitative"},
  "detail":{"field":"id"},
  "color":{"field":"g","type":"nominal","legend":null},
  "strokeWidth":{"field":"g","type":"nominal","legend":null}
 }}
]
}
